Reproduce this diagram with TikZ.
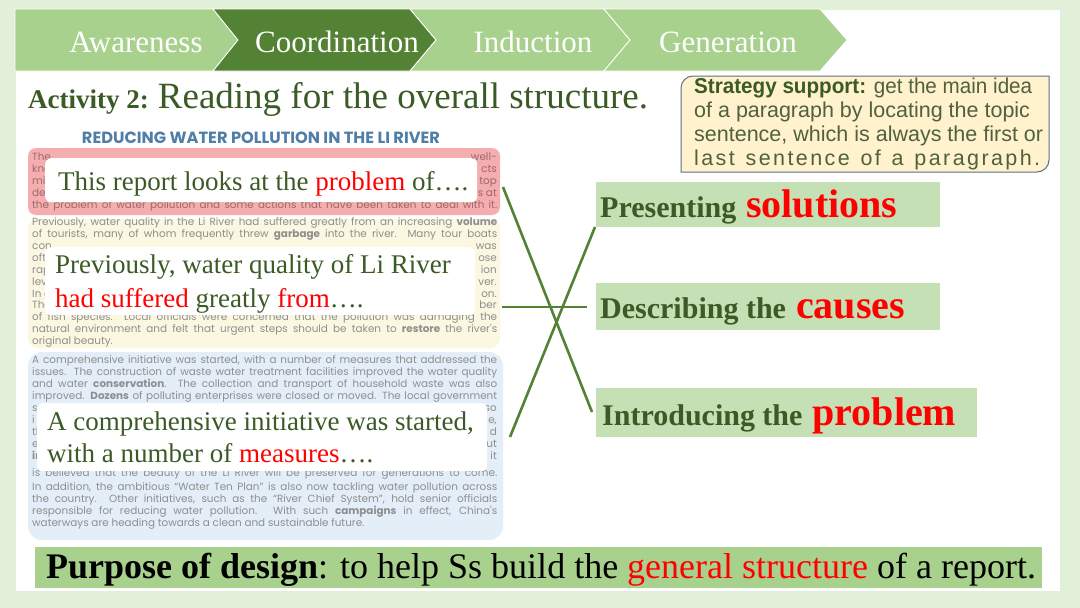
\documentclass[tikz,border=0pt]{standalone}
\usepackage{fontspec}
\usepackage{graphicx}
\setmainfont{Liberation Serif}
\newfontfamily\arialf{Liberation Sans}
\newfontfamily\artf{Poppins}
\definecolor{bgout}{HTML}{E2EFD9}
\definecolor{lgreen}{HTML}{A9D18E}
\definecolor{dgreen}{HTML}{548235}
\definecolor{tgreen}{HTML}{3A5A26}
\definecolor{boxgreen}{HTML}{C5E0B4}
\definecolor{stratfill}{HTML}{FFF2CC}
\definecolor{stratline}{HTML}{5B6F8C}
\definecolor{strattxt}{HTML}{4F6140}
\definecolor{headblue}{HTML}{4F7EA6}
\definecolor{redblk}{HTML}{F4AEB0}
\definecolor{yelblk}{HTML}{FBF7E0}
\definecolor{blublk}{HTML}{E3EEF8}
\definecolor{artgray}{HTML}{8E8E8E}
\definecolor{artred}{HTML}{A06868}
\definecolor{myred}{HTML}{FF0000}
\newcommand\artfull[3][]{\node[art,#1,anchor=base west] (a#2) at (32,#2) {\makebox[465pt][s]{#3}};}
\newcommand\artlast[3][]{\node[art,#1,anchor=base west] (a#2) at (32,#2) {#3};}
\newcommand\artsplit[4][]{\node[art,#1,anchor=base west] (a#2) at (32,#2) {#3};\node[art,#1,anchor=base east] (b#2) at (497,#2) {#4};}
\begin{document}
\begin{tikzpicture}[x=1pt,y=-1pt,
  chev/.style={fill=lgreen, draw=white, line width=0.8pt},
  bantext/.style={text=white, font=\fontsize{31}{36}\selectfont, inner sep=0, anchor=base},
  art/.style={font=\artf\fontsize{10.4}{12}\selectfont, text=artgray, inner sep=0},
  wbox/.style={fill=white, rounded corners=6pt, inner sep=0, anchor=north west},
  wtext/.style={font=\fontsize{27}{30}\selectfont, text=tgreen, inner sep=0, anchor=base west},
  gbox/.style={fill=boxgreen, inner sep=0, anchor=north west},
  gtext/.style={font=\bfseries\fontsize{30}{34}\selectfont, text=tgreen, inner sep=0, anchor=base west},
  conn/.style={draw=dgreen, line width=2.6pt},
  stext/.style={font=\arialf\fontsize{21.5}{24}\selectfont, text=strattxt, inner sep=0, anchor=base west}
]
\useasboundingbox (0,0) rectangle (1080,608);
\fill[bgout] (0,0) rectangle (1080,608);
\fill[white] (16,10) rectangle (1060,591);

% banner
\path[chev] (15,9) -- (213,9) -- (238,40) -- (213,71) -- (15,71) -- cycle;
\path[chev,fill=dgreen] (213,9) -- (410,9) -- (436,40) -- (410,71) -- (213,71) -- (238,40) -- cycle;
\path[chev] (410,9) -- (604,9) -- (630,40) -- (604,71) -- (410,71) -- (436,40) -- cycle;
\path[chev] (604,9) -- (820,9) -- (847,40) -- (820,71) -- (604,71) -- (630,40) -- cycle;
\node[bantext] (aw) at (136,52) {Awareness};
\node[bantext] (co) at (337,52) {Coordination};
\node[bantext] (in) at (533,52) {Induction};
\node[bantext] (ge) at (728,52) {Generation};

% title
\node[anchor=base west, inner sep=0, text=tgreen] (title) at (28,108)
  {{\bfseries\fontsize{27}{32}\selectfont Activity 2: }{\fontsize{37}{42}\selectfont Reading for the overall structure.}};

% strategy box
\draw[fill=stratfill, draw=stratline, line width=1pt]
  (681,88) .. controls (681,81.4) and (686.4,76) .. (693,76) -- (1049,76) -- (1049,160)
  .. controls (1049,166.6) and (1043.6,172) .. (1037,172) -- (681,172) -- cycle;
\node[stext] (s1) at (694,93) {\resizebox{338pt}{\height}{{\bfseries\color{tgreen}Strategy support:} get the main idea}};
\node[stext] (s2) at (694,117) {of a paragraph by locating the topic};
\node[stext] (s3) at (694,141) {sentence, which is always the first or};
\node[stext] (s4) at (694,165) {\hbox to 346pt{l\hfil a\hfil s\hfil t\hfil\ \hfil s\hfil e\hfil n\hfil t\hfil e\hfil n\hfil c\hfil e\hfil\ \hfil o\hfil f\hfil\ \hfil a\hfil\ \hfil p\hfil a\hfil r\hfil a\hfil g\hfil r\hfil a\hfil p\hfil h\hfil .}};

% article
\node[inner sep=0, text=headblue] (head) at (261,138)
  {\resizebox{358pt}{!}{\artf\bfseries\fontsize{11}{12}\selectfont REDUCING WATER POLLUTION IN THE LI RIVER}};
\fill[redblk, rounded corners=8pt] (28,148) rectangle (500,215);
\fill[yelblk, rounded corners=10pt] (28,219) rectangle (500,348);
\fill[blublk, rounded corners=14pt] (28,352) rectangle (503,540);

\artsplit[text=artred]{160}{The}{well-}
\artsplit[text=artred]{172}{kno}{cts}
\artsplit[text=artred]{184}{mil}{top}
\artsplit[text=artred]{196}{de}{s at}
\artfull[text=artred]{208}{the problem of water pollution and some actions that have been taken to deal with it.}

\artfull{225}{Previously, water quality in the Li River had suffered greatly from an increasing \textbf{volume}}
\artfull{237}{of tourists, many of whom frequently threw \textbf{garbage} into the river. Many tour boats}
\artsplit{249}{con}{was}
\artsplit{261}{oft}{ose}
\artsplit{273}{rap}{ion}
\artsplit{285}{lev}{ver.}
\artsplit{297}{In c}{on.}
\artsplit{308}{The}{ber}
\artfull{320}{of fish species. Local officials were concerned that the pollution was damaging the}
\artfull{332}{natural environment and felt that urgent steps should be taken to \textbf{restore} the river's}
\artlast{344}{original beauty.}

\artfull{363}{A comprehensive initiative was started, with a number of measures that addressed the}
\artfull{375}{issues. The construction of waste water treatment facilities improved the water quality}
\artfull{387}{and water \textbf{conservation}. The collection and transport of household waste was also}
\artfull{399}{improved. \textbf{Dozens} of polluting enterprises were closed or moved. The local government}
\artsplit{411}{s}{so}
\artsplit{423}{i}{e,}
\artsplit{435}{th}{d}
\artsplit{447}{e}{ut}
\artsplit{459}{\textbf{in}}{it}
\artfull{476}{is believed that the beauty of the Li River will be preserved for generations to come.}
\artfull{490}{In addition, the ambitious “Water Ten Plan” is also now tackling water pollution across}
\artfull{502}{the country. Other initiatives, such as the “River Chief System”, hold senior officials}
\artfull{514}{responsible for reducing water pollution. With such \textbf{campaigns} in effect, China's}
\artlast{526}{waterways are heading towards a clean and sustainable future.}

% white overlay boxes
\node[wbox, minimum width=432pt, minimum height=44pt] (w1) at (45,158) {};
\node[wbox, minimum width=430pt, minimum height=68pt] (w2) at (45,247) {};
\node[wbox, minimum width=450pt, minimum height=68pt] (w3) at (37,403) {};
\node[wtext] (w1a) at (58,190) {This report looks at the \textcolor{myred}{problem} of….};
\node[wtext] (w2a) at (55,273) {Previously, water quality of Li River};
\node[wtext] (w2b) at (55,307) {\textcolor{myred}{had suffered} greatly \textcolor{myred}{from}….};
\node[wtext] (w3a) at (47,430) {A comprehensive initiative was started,};
\node[wtext] (w3b) at (47,462) {with a number of \textcolor{myred}{measures}….};

% right boxes
\node[gbox, minimum width=344pt, minimum height=45pt] (pres) at (596,182) {};
\node[gbox, minimum width=344pt, minimum height=47pt] (desc) at (596,283) {};
\node[gbox, minimum width=381pt, minimum height=49pt] (intro) at (596,388) {};
\node[gtext] (prest) at (600,217) {Presenting\textcolor{myred}{\fontsize{40}{42}\selectfont\ solutions}};
\node[gtext] (desct) at (600,318) {Describing the\textcolor{myred}{\fontsize{40}{42}\selectfont\ causes}};
\node[gtext] (introt) at (602,425) {Introducing the\textcolor{myred}{\fontsize{40}{42}\selectfont\ problem}};

% connectors
\coordinate (la1) at (503,187);
\coordinate (la2) at (592,412);
\coordinate (lb1) at (595,227);
\coordinate (lb2) at (510,437);
\coordinate (lc1) at (502,307);
\coordinate (lc2) at (587,307);
\draw[conn] (la1) -- (la2);
\draw[conn] (lb1) -- (lb2);
\draw[conn] (lc1) -- (lc2);

% purpose bar
\node[fill=lgreen, inner sep=0, anchor=north west, minimum width=1007pt, minimum height=41pt] (bar) at (35,547) {};
\node[anchor=base west, inner sep=0, font=\fontsize{36}{40}\selectfont] (purpose) at (46,578)
  {\textbf{Purpose of design}: to help Ss build the \textcolor{myred}{general structure} of a report.};
\end{tikzpicture}
\end{document}
